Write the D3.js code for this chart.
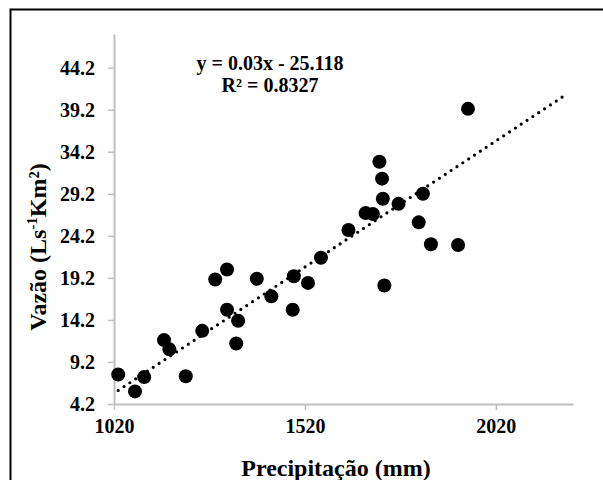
<!DOCTYPE html>
<html>
<head>
<meta charset="utf-8">
<script src="https://cdn.jsdelivr.net/npm/d3@7"></script>
<style>
  html, body { margin: 0; padding: 0; background: #fff; }
  svg { display: block; }
  text { font-family: "Liberation Serif", "Times New Roman", serif; font-weight: bold; fill: #000; }
</style>
</head>
<body>
<svg id="chart" width="603" height="480"></svg>
<script>
// ---- data ----
const precipitation = [1031, 1075, 1099, 1151, 1165, 1208, 1251, 1285, 1316, 1316,
  1345, 1340, 1394, 1432, 1488, 1491, 1528, 1562, 1947, 1715,
  1722, 1724, 1765, 1829, 1679, 1698, 1634, 1818, 1850, 1921, 1728];
const vazao = [7.7, 5.7, 7.4, 11.8, 10.7, 7.5, 12.9, 19.0, 20.2, 15.4,
  14.1, 11.4, 19.1, 17.0, 15.4, 19.4, 18.6, 21.6, 39.3, 33.0,
  31.0, 28.6, 28.0, 29.2, 26.9, 26.8, 24.9, 25.8, 23.2, 23.1, 18.3];
const xTicks = [1020, 1520, 2020];
const yTicks = [4.2, 9.2, 14.2, 19.2, 24.2, 29.2, 34.2, 39.2, 44.2];
const slope = 0.03, intercept = -25.118, r2 = 0.8327;
const trendForward = 260;

(function () {
const svg = d3.select("#chart");
// outer frame
svg.append("rect").attr("x", 10.5).attr("y", 9.5).attr("width", 700).attr("height", 700)
  .attr("fill", "none").attr("stroke", "#000").attr("stroke-width", 2);

const pLeft = 114, pRight = 573, pTop = 34, pBottom = 404;
const x = d3.scaleLinear().domain([1020, 2222]).range([pLeft, pRight]);
const y = d3.scaleLinear().domain([4.2, 48.2]).range([pBottom, pTop]);

const axisColor = "#bfbfbf";
const xAxis = svg.append("g").attr("transform", `translate(0,${pBottom})`)
  .call(d3.axisBottom(x).tickValues(xTicks).tickSize(6).tickSizeOuter(0).tickPadding(9).tickFormat(d3.format("d")));
const yAxis = svg.append("g").attr("transform", `translate(${pLeft},0)`)
  .call(d3.axisLeft(y).tickValues(yTicks).tickSize(6).tickSizeOuter(0).tickPadding(13).tickFormat(d3.format(".1f")));
[xAxis, yAxis].forEach(g => {
  g.select(".domain").attr("stroke", axisColor).attr("stroke-width", 2);
  g.selectAll(".tick line").attr("stroke", axisColor).attr("stroke-width", 1.5);
  g.selectAll(".tick text").style("font-family", '"Liberation Serif", serif')
    .style("font-weight", "bold").style("font-size", "20px").attr("fill", "#000");
});

// trendline
const x0 = d3.min(precipitation), x1 = d3.max(precipitation) + trendForward;
svg.append("line")
  .attr("x1", x(x0)).attr("y1", y(slope * x0 + intercept))
  .attr("x2", x(x1)).attr("y2", y(slope * x1 + intercept))
  .attr("stroke", "#000").attr("stroke-width", 3.2)
  .attr("stroke-linecap", "round").attr("stroke-dasharray", "0,7");

// points
svg.append("g").selectAll("circle").data(precipitation).join("circle")
  .attr("cx", d => x(d)).attr("cy", (d, i) => y(vazao[i])).attr("r", 7).attr("fill", "#000");

// equation
svg.append("text").attr("x", 270).attr("y", 70).attr("text-anchor", "middle")
  .style("font-size", "20px").text(`y = ${slope}x - ${Math.abs(intercept)}`);
svg.append("text").attr("x", 270).attr("y", 92).attr("text-anchor", "middle")
  .style("font-size", "20px").text(`R² = ${r2}`);

// axis titles
svg.append("text").attr("x", 336).attr("y", 476).attr("text-anchor", "middle")
  .style("font-size", "24px").text("Precipitação (mm)");
const yt = svg.append("text").attr("transform", "translate(46,247) rotate(-90)")
  .attr("text-anchor", "middle").style("font-size", "24px");
yt.append("tspan").text("Vazão (Ls");
yt.append("tspan").attr("dy", -9).style("font-size", "15px").text("-1");
yt.append("tspan").attr("dy", 9).text("Km²)");
})();
</script>
</body>
</html>
